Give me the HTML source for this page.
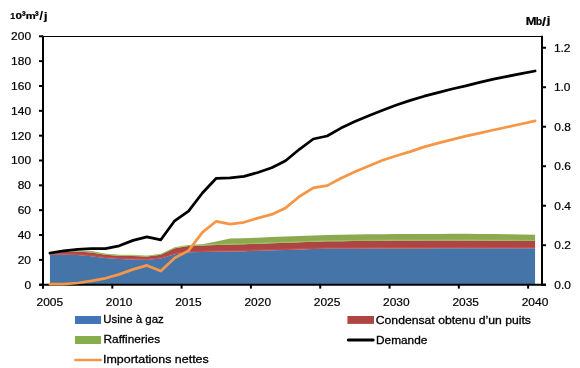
<!DOCTYPE html><html><head><meta charset="utf-8"><style>html,body{margin:0;padding:0;background:#fff;}svg{display:block;will-change:transform;}text{font-family:"Liberation Sans",sans-serif;fill:#000;stroke:#000;stroke-width:0.3px;}</style></head><body>
<svg width="580" height="368" viewBox="0 0 580 368">
<rect x="0" y="0" width="580" height="368" fill="#fff"/>
<path d="M49.93,254.70 L63.79,254.50 L77.65,255.00 L91.51,256.20 L105.38,258.00 L119.24,259.00 L133.10,259.50 L146.96,259.80 L160.82,258.60 L174.68,254.20 L188.54,252.30 L202.40,251.90 L216.26,251.60 L230.12,251.50 L243.99,251.20 L257.85,250.70 L271.71,250.30 L285.57,249.90 L299.43,249.40 L313.29,249.00 L327.15,248.60 L341.01,248.60 L354.88,248.60 L368.74,248.50 L382.60,248.50 L396.46,248.50 L410.32,248.40 L424.18,248.40 L438.04,248.30 L451.90,248.30 L465.76,248.20 L479.62,248.20 L493.49,248.20 L507.35,248.20 L521.21,248.20 L535.07,248.20 L535.07,284.70 L521.21,284.70 L507.35,284.70 L493.49,284.70 L479.62,284.70 L465.76,284.70 L451.90,284.70 L438.04,284.70 L424.18,284.70 L410.32,284.70 L396.46,284.70 L382.60,284.70 L368.74,284.70 L354.88,284.70 L341.01,284.70 L327.15,284.70 L313.29,284.70 L299.43,284.70 L285.57,284.70 L271.71,284.70 L257.85,284.70 L243.99,284.70 L230.12,284.70 L216.26,284.70 L202.40,284.70 L188.54,284.70 L174.68,284.70 L160.82,284.70 L146.96,284.70 L133.10,284.70 L119.24,284.70 L105.38,284.70 L91.51,284.70 L77.65,284.70 L63.79,284.70 L49.93,284.70 Z" fill="#4574A9"/>
<path d="M49.93,253.40 L63.79,252.00 L77.65,251.60 L91.51,252.50 L105.38,254.70 L119.24,255.80 L133.10,255.90 L146.96,256.60 L160.82,254.80 L174.68,248.20 L188.54,246.00 L202.40,245.40 L216.26,245.00 L230.12,244.60 L243.99,244.30 L257.85,243.80 L271.71,243.30 L285.57,242.80 L299.43,242.30 L313.29,241.80 L327.15,241.30 L341.01,241.20 L354.88,241.00 L368.74,240.90 L382.60,240.70 L396.46,240.60 L410.32,240.60 L424.18,240.50 L438.04,240.50 L451.90,240.50 L465.76,240.50 L479.62,240.60 L493.49,240.70 L507.35,240.80 L521.21,240.90 L535.07,241.00 L535.07,248.20 L521.21,248.20 L507.35,248.20 L493.49,248.20 L479.62,248.20 L465.76,248.20 L451.90,248.30 L438.04,248.30 L424.18,248.40 L410.32,248.40 L396.46,248.50 L382.60,248.50 L368.74,248.50 L354.88,248.60 L341.01,248.60 L327.15,248.60 L313.29,249.00 L299.43,249.40 L285.57,249.90 L271.71,250.30 L257.85,250.70 L243.99,251.20 L230.12,251.50 L216.26,251.60 L202.40,251.90 L188.54,252.30 L174.68,254.20 L160.82,258.60 L146.96,259.80 L133.10,259.50 L119.24,259.00 L105.38,258.00 L91.51,256.20 L77.65,255.00 L63.79,254.50 L49.93,254.70 Z" fill="#AD4545"/>
<path d="M49.93,253.30 L63.79,251.80 L77.65,251.00 L91.51,251.00 L105.38,253.80 L119.24,255.10 L133.10,255.20 L146.96,255.90 L160.82,254.00 L174.68,247.40 L188.54,245.30 L202.40,244.30 L216.26,241.60 L230.12,238.50 L243.99,238.20 L257.85,237.70 L271.71,237.10 L285.57,236.50 L299.43,235.90 L313.29,235.40 L327.15,234.90 L341.01,234.70 L354.88,234.50 L368.74,234.30 L382.60,234.20 L396.46,234.10 L410.32,234.00 L424.18,233.90 L438.04,233.90 L451.90,233.80 L465.76,233.80 L479.62,233.90 L493.49,234.00 L507.35,234.20 L521.21,234.40 L535.07,234.70 L535.07,241.00 L521.21,240.90 L507.35,240.80 L493.49,240.70 L479.62,240.60 L465.76,240.50 L451.90,240.50 L438.04,240.50 L424.18,240.50 L410.32,240.60 L396.46,240.60 L382.60,240.70 L368.74,240.90 L354.88,241.00 L341.01,241.20 L327.15,241.30 L313.29,241.80 L299.43,242.30 L285.57,242.80 L271.71,243.30 L257.85,243.80 L243.99,244.30 L230.12,244.60 L216.26,245.00 L202.40,245.40 L188.54,246.00 L174.68,248.20 L160.82,254.80 L146.96,256.60 L133.10,255.90 L119.24,255.80 L105.38,254.70 L91.51,252.50 L77.65,251.60 L63.79,252.00 L49.93,253.40 Z" fill="#8BAA50"/>
<polyline points="49.93,252.80 63.79,251.40 77.65,251.00 91.51,251.90 105.38,254.10 119.24,255.20 133.10,255.30 146.96,256.00 160.82,254.20 174.68,247.60 188.54,245.40 202.40,244.80 216.26,244.40 230.12,244.00 243.99,243.70 257.85,243.20 271.71,242.70 285.57,242.20 299.43,241.70 313.29,241.20 327.15,240.70 341.01,240.60 354.88,240.40 368.74,240.30 382.60,240.10 396.46,240.00 410.32,240.00 424.18,239.90 438.04,239.90 451.90,239.90 465.76,239.90 479.62,240.00 493.49,240.10 507.35,240.20 521.21,240.30 535.07,240.40" fill="none" stroke="#9DC75E" stroke-width="1" opacity="0.8"/>
<polyline points="49.93,253.90 63.79,253.70 77.65,254.20 91.51,255.40 105.38,257.20 119.24,258.20 133.10,258.70 146.96,259.00 160.82,257.80 174.68,253.40 188.54,251.50 202.40,251.10 216.26,250.80 230.12,250.70 243.99,250.40 257.85,249.90 271.71,249.50 285.57,249.10 299.43,248.60 313.29,248.20 327.15,247.80 341.01,247.80 354.88,247.80 368.74,247.70 382.60,247.70 396.46,247.70 410.32,247.60 424.18,247.60 438.04,247.50 451.90,247.50 465.76,247.40 479.62,247.40 493.49,247.40 507.35,247.40 521.21,247.40 535.07,247.40" fill="none" stroke="#CF4F4B" stroke-width="1.2" opacity="0.8"/>
<line x1="43" y1="36.5" x2="542" y2="36.5" stroke="#000" stroke-width="1.2"/>
<line x1="43" y1="35.8" x2="43" y2="288.6" stroke="#000" stroke-width="2"/>
<line x1="542" y1="35.8" x2="542" y2="285.7" stroke="#000" stroke-width="2"/>
<line x1="39" y1="284.7" x2="546" y2="284.7" stroke="#000" stroke-width="2"/>
<polyline points="49.93,284.20 63.79,284.20 77.65,283.00 91.51,280.90 105.38,278.30 119.24,274.40 133.10,269.40 146.96,265.40 160.82,271.00 174.68,258.00 188.54,250.60 202.40,232.40 216.26,221.30 230.12,224.20 243.99,222.30 257.85,218.10 271.71,214.40 285.57,207.90 299.43,196.50 313.29,187.90 327.15,185.60 341.01,178.20 354.88,171.80 368.74,166.00 382.60,160.30 396.46,155.80 410.32,151.60 424.18,146.90 438.04,143.20 451.90,139.60 465.76,136.10 479.62,133.10 493.49,130.00 507.35,127.00 521.21,124.00 535.07,120.90" fill="none" stroke="#F79646" stroke-width="2.75" stroke-linejoin="round" stroke-linecap="round"/>
<polyline points="49.93,253.00 63.79,250.80 77.65,249.30 91.51,248.60 105.38,248.60 119.24,245.80 133.10,240.40 146.96,236.80 160.82,239.80 174.68,220.80 188.54,211.20 202.40,193.00 216.26,178.30 230.12,177.80 243.99,176.40 257.85,172.50 271.71,167.80 285.57,160.80 299.43,149.30 313.29,139.00 327.15,136.00 341.01,128.10 354.88,121.60 368.74,115.80 382.60,110.30 396.46,105.00 410.32,100.40 424.18,96.20 438.04,92.60 451.90,89.00 465.76,85.90 479.62,82.30 493.49,79.10 507.35,76.40 521.21,73.70 535.07,71.00" fill="none" stroke="#000" stroke-width="2.75" stroke-linejoin="round" stroke-linecap="round"/>
<line x1="39" y1="284.70" x2="43" y2="284.70" stroke="#000" stroke-width="2"/>
<text transform="translate(24.43,288.60) scale(1.060,1)" font-size="11.30" style="stroke-width:0.2px">0</text>
<line x1="39" y1="259.86" x2="43" y2="259.86" stroke="#000" stroke-width="2"/>
<text transform="translate(17.72,263.76) scale(1.060,1)" font-size="11.30" style="stroke-width:0.2px">20</text>
<line x1="39" y1="235.02" x2="43" y2="235.02" stroke="#000" stroke-width="2"/>
<text transform="translate(17.72,238.92) scale(1.060,1)" font-size="11.30" style="stroke-width:0.2px">40</text>
<line x1="39" y1="210.18" x2="43" y2="210.18" stroke="#000" stroke-width="2"/>
<text transform="translate(17.72,214.08) scale(1.060,1)" font-size="11.30" style="stroke-width:0.2px">60</text>
<line x1="39" y1="185.34" x2="43" y2="185.34" stroke="#000" stroke-width="2"/>
<text transform="translate(17.72,189.24) scale(1.060,1)" font-size="11.30" style="stroke-width:0.2px">80</text>
<line x1="39" y1="160.50" x2="43" y2="160.50" stroke="#000" stroke-width="2"/>
<text transform="translate(11.08,164.40) scale(1.060,1)" font-size="11.30" style="stroke-width:0.2px">100</text>
<line x1="39" y1="135.66" x2="43" y2="135.66" stroke="#000" stroke-width="2"/>
<text transform="translate(11.08,139.56) scale(1.060,1)" font-size="11.30" style="stroke-width:0.2px">120</text>
<line x1="39" y1="110.82" x2="43" y2="110.82" stroke="#000" stroke-width="2"/>
<text transform="translate(11.08,114.72) scale(1.060,1)" font-size="11.30" style="stroke-width:0.2px">140</text>
<line x1="39" y1="85.98" x2="43" y2="85.98" stroke="#000" stroke-width="2"/>
<text transform="translate(11.08,89.88) scale(1.060,1)" font-size="11.30" style="stroke-width:0.2px">160</text>
<line x1="39" y1="61.14" x2="43" y2="61.14" stroke="#000" stroke-width="2"/>
<text transform="translate(11.08,65.04) scale(1.060,1)" font-size="11.30" style="stroke-width:0.2px">180</text>
<line x1="39" y1="36.30" x2="43" y2="36.30" stroke="#000" stroke-width="2"/>
<text transform="translate(11.08,40.20) scale(1.060,1)" font-size="11.30" style="stroke-width:0.2px">200</text>
<line x1="542" y1="284.70" x2="546" y2="284.70" stroke="#000" stroke-width="2"/>
<text transform="translate(554.32,288.60) scale(1.060,1)" font-size="11.30" style="stroke-width:0.2px">0.0</text>
<line x1="542" y1="245.21" x2="546" y2="245.21" stroke="#000" stroke-width="2"/>
<text transform="translate(554.32,249.11) scale(1.060,1)" font-size="11.30" style="stroke-width:0.2px">0.2</text>
<line x1="542" y1="205.72" x2="546" y2="205.72" stroke="#000" stroke-width="2"/>
<text transform="translate(554.32,209.62) scale(1.060,1)" font-size="11.30" style="stroke-width:0.2px">0.4</text>
<line x1="542" y1="166.23" x2="546" y2="166.23" stroke="#000" stroke-width="2"/>
<text transform="translate(554.32,170.13) scale(1.060,1)" font-size="11.30" style="stroke-width:0.2px">0.6</text>
<line x1="542" y1="126.73" x2="546" y2="126.73" stroke="#000" stroke-width="2"/>
<text transform="translate(554.32,130.63) scale(1.060,1)" font-size="11.30" style="stroke-width:0.2px">0.8</text>
<line x1="542" y1="87.24" x2="546" y2="87.24" stroke="#000" stroke-width="2"/>
<text transform="translate(553.90,91.14) scale(1.060,1)" font-size="11.30" style="stroke-width:0.2px">1.0</text>
<line x1="542" y1="47.75" x2="546" y2="47.75" stroke="#000" stroke-width="2"/>
<text transform="translate(553.90,51.65) scale(1.060,1)" font-size="11.30" style="stroke-width:0.2px">1.2</text>
<line x1="43.00" y1="284.7" x2="43.00" y2="288.6" stroke="#000" stroke-width="2"/>
<text transform="translate(36.55,305.90) scale(1.060,1)" font-size="11.30" style="stroke-width:0.2px">2005</text>
<line x1="112.31" y1="284.7" x2="112.31" y2="288.6" stroke="#000" stroke-width="2"/>
<text transform="translate(105.85,305.90) scale(1.060,1)" font-size="11.30" style="stroke-width:0.2px">2010</text>
<line x1="181.61" y1="284.7" x2="181.61" y2="288.6" stroke="#000" stroke-width="2"/>
<text transform="translate(175.16,305.90) scale(1.060,1)" font-size="11.30" style="stroke-width:0.2px">2015</text>
<line x1="250.92" y1="284.7" x2="250.92" y2="288.6" stroke="#000" stroke-width="2"/>
<text transform="translate(244.46,305.90) scale(1.060,1)" font-size="11.30" style="stroke-width:0.2px">2020</text>
<line x1="320.22" y1="284.7" x2="320.22" y2="288.6" stroke="#000" stroke-width="2"/>
<text transform="translate(313.77,305.90) scale(1.060,1)" font-size="11.30" style="stroke-width:0.2px">2025</text>
<line x1="389.53" y1="284.7" x2="389.53" y2="288.6" stroke="#000" stroke-width="2"/>
<text transform="translate(383.07,305.90) scale(1.060,1)" font-size="11.30" style="stroke-width:0.2px">2030</text>
<line x1="458.83" y1="284.7" x2="458.83" y2="288.6" stroke="#000" stroke-width="2"/>
<text transform="translate(452.38,305.90) scale(1.060,1)" font-size="11.30" style="stroke-width:0.2px">2035</text>
<line x1="528.14" y1="284.7" x2="528.14" y2="288.6" stroke="#000" stroke-width="2"/>
<text transform="translate(521.68,305.90) scale(1.060,1)" font-size="11.30" style="stroke-width:0.2px">2040</text>
<text transform="translate(10.15,19.00) scale(0.920,1)" font-size="9.70" font-weight="bold" style="stroke-width:0.2px">1</text>
<text transform="translate(15.62,19.00) scale(1.220,1)" font-size="9.70" font-weight="bold" style="stroke-width:0.2px">0</text>
<text transform="translate(21.74,20.20) scale(1.000,1)" font-size="12.00" font-weight="bold" style="stroke-width:0.2px">³</text>
<text transform="translate(25.67,19.00) scale(1.300,1)" font-size="8.60" font-weight="bold" style="stroke-width:0.2px">m</text>
<text transform="translate(34.79,20.20) scale(1.000,1)" font-size="12.00" font-weight="bold" style="stroke-width:0.2px">³</text>
<text transform="translate(39.21,20.40) scale(1.100,1)" font-size="12.60" font-weight="bold" style="stroke:none">/</text>
<text transform="translate(44.10,19.60) scale(1.200,1)" font-size="10.50" font-weight="bold" style="stroke-width:0.2px">j</text>
<text transform="translate(525.63,24.60) scale(1.280,1)" font-size="10.10" font-weight="bold" style="stroke-width:0.2px">M</text>
<text transform="translate(535.67,24.60) scale(1.000,1)" font-size="10.50" font-weight="bold" style="stroke-width:0.2px">b</text>
<text transform="translate(542.09,26.20) scale(1.150,1)" font-size="12.50" font-weight="bold" style="stroke-width:0.2px">/</text>
<text transform="translate(546.82,24.30) scale(1.300,1)" font-size="10.00" font-weight="bold" style="stroke-width:0.2px">j</text>
<rect x="75" y="316" width="26" height="8" fill="#4374B3"/>
<text transform="translate(103.34,323.40) scale(0.988,1)" font-size="11.60">Usine à gaz</text>
<rect x="75" y="336" width="26" height="8" fill="#88AD4D"/>
<text transform="translate(103.55,343.40) scale(1.024,1)" font-size="11.60">Raffineries</text>
<line x1="75.4" y1="360.0" x2="100.7" y2="360.0" stroke="#F79646" stroke-width="2.7" stroke-linecap="round"/>
<text transform="translate(102.98,363.40) scale(1.074,1)" font-size="11.60">Importations nettes</text>
<rect x="347.4" y="316" width="26.6" height="7.9" fill="#AD4545"/>
<text transform="translate(375.79,323.50) scale(1.052,1)" font-size="11.60">Condensat obtenu d’un puits</text>
<line x1="348.3" y1="339.9" x2="373.2" y2="339.9" stroke="#000" stroke-width="3" stroke-linecap="round"/>
<text transform="translate(376.05,343.50) scale(1.020,1)" font-size="11.60">Demande</text>
</svg></body></html>
